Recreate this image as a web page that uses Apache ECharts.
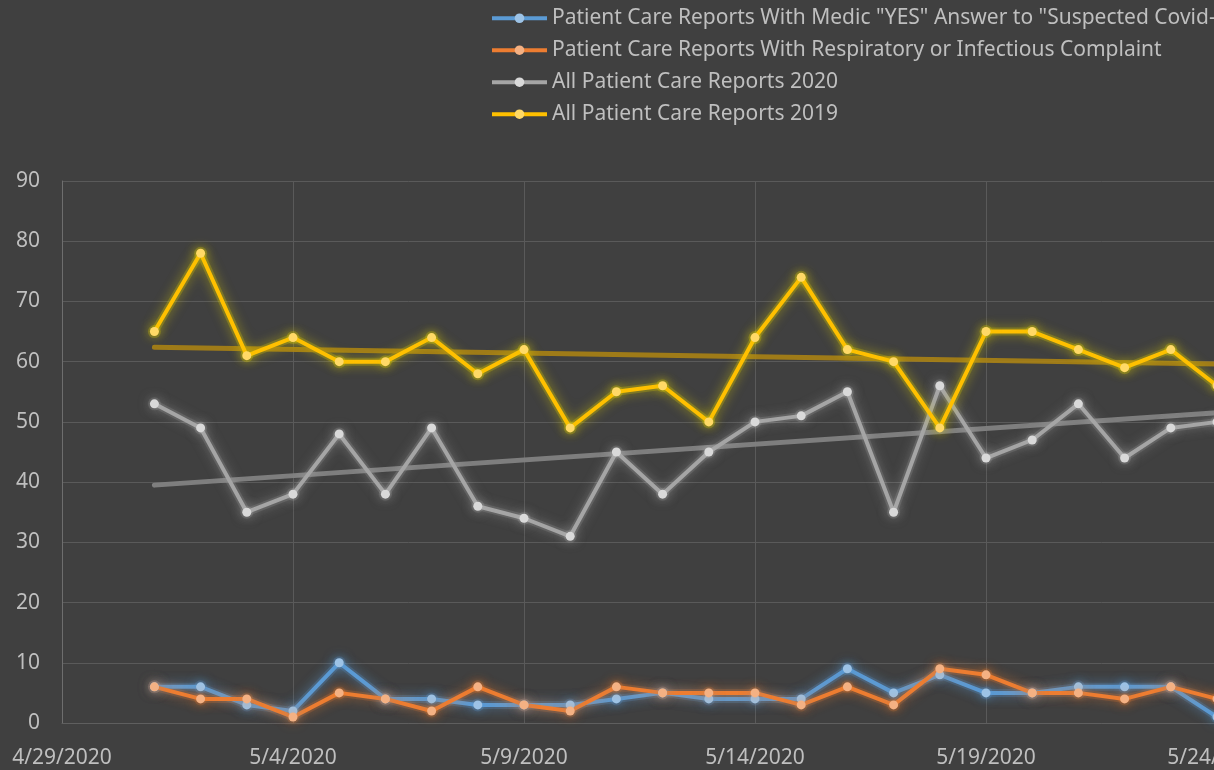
<!DOCTYPE html>
<html>
<head>
    <title>Patient Care Reports</title>
    <script src="https://cdn.jsdelivr.net/npm/echarts@6/dist/echarts.min.js"></script>
    <style>
        body {
            margin: 0;
            padding: 0;
            overflow: hidden;
            background-color: #404040;
        }
        #chart {
            width: 1460px;
            height: 770px;
        }
    </style>
</head>
<body>
    <div id="chart"></div>

    <script>
        // days on the axis (4/29 .. 5/29), data runs 5/1 .. 5/24
        var dates = ['4/29/2020', '4/30/2020', '5/1/2020', '5/2/2020', '5/3/2020', '5/4/2020', '5/5/2020',
            '5/6/2020', '5/7/2020', '5/8/2020', '5/9/2020', '5/10/2020', '5/11/2020', '5/12/2020',
            '5/13/2020', '5/14/2020', '5/15/2020', '5/16/2020', '5/17/2020', '5/18/2020', '5/19/2020',
            '5/20/2020', '5/21/2020', '5/22/2020', '5/23/2020', '5/24/2020', '5/25/2020', '5/26/2020',
            '5/27/2020', '5/28/2020', '5/29/2020'];

        var medicYes   = [null, null, 6, 6, 3, 2, 10, 4, 4, 3, 3, 3, 4, 5, 4, 4, 4, 9, 5, 8, 5, 5, 6, 6, 6, 1];
        var respiratory = [null, null, 6, 4, 4, 1, 5, 4, 2, 6, 3, 2, 6, 5, 5, 5, 3, 6, 3, 9, 8, 5, 5, 4, 6, 4];
        var reports2020 = [null, null, 53, 49, 35, 38, 48, 38, 49, 36, 34, 31, 45, 38, 45, 50, 51, 55, 35, 56, 44, 47, 53, 44, 49, 50];
        var reports2019 = [null, null, 65, 78, 61, 64, 60, 60, 64, 58, 62, 49, 55, 56, 50, 64, 74, 62, 60, 49, 65, 65, 62, 59, 62, 56];

        // linear trend end points (5/1 and 5/24)
        var trend2020 = [39.5, 51.5];
        var trend2019 = [62.4, 59.6];

        var names = [
            'Patient Care Reports With Medic "YES" Answer to "Suspected Covid-19"',
            'Patient Care Reports With Respiratory or Infectious Complaint',
            'All Patient Care Reports 2020',
            'All Patient Care Reports 2019'
        ];

        function trendData(ends) {
            var out = dates.map(function () { return null; });
            out[2] = ends[0];
            out[25] = ends[1];
            return out;
        }

        // soft wide halo under a line, like the office "glow" effect
        function haloSeries(data, glow) {
            return {
                type: 'line',
                data: data,
                symbol: 'circle',
                symbolSize: 13,
                z: 1,
                silent: true,
                lineStyle: { color: glow, width: 8, shadowColor: glow, shadowBlur: 18 },
                itemStyle: { color: glow, borderWidth: 0, shadowColor: glow, shadowBlur: 14 },
                emphasis: { disabled: true }
            };
        }

        function lineSeries(name, data, color, markerColor, glow) {
            return {
                name: name,
                type: 'line',
                data: data,
                symbol: 'circle',
                symbolSize: 9,
                showSymbol: true,
                z: 3,
                lineStyle: {
                    color: color,
                    width: 4,
                    shadowColor: glow,
                    shadowBlur: 12
                },
                itemStyle: {
                    color: markerColor,
                    borderWidth: 0,
                    shadowColor: glow,
                    shadowBlur: 12
                },
                emphasis: { disabled: true }
            };
        }

        function trendSeries(ends, color) {
            return {
                type: 'line',
                data: trendData(ends),
                connectNulls: true,
                showSymbol: false,
                symbol: 'none',
                z: 2,
                lineStyle: { color: color, width: 5, cap: 'round' },
                emphasis: { disabled: true },
                silent: true
            };
        }

        var chart = echarts.init(document.getElementById('chart'));

        var option = {
            backgroundColor: '#404040',
            animation: false,
            textStyle: { fontFamily: 'Noto Sans' },
            legend: {
                orient: 'vertical',
                left: 490,
                top: 1,
                padding: 0,
                itemWidth: 55,
                itemHeight: 12,
                itemGap: -2.5,
                data: names,
                lineStyle: { width: 4 },
                textStyle: { color: '#bfbfbf', fontSize: 21, lineHeight: 21, fontFamily: 'Noto Sans' }
            },
            grid: {
                left: 62,
                right: 12,
                top: 181,
                bottom: 47,
                outerBoundsMode: 'none',
                containLabel: false
            },
            xAxis: {
                type: 'category',
                data: dates,
                boundaryGap: false,
                axisLine: { show: true, lineStyle: { color: '#5f5f5f' } },
                axisTick: { show: false },
                axisLabel: {
                    interval: 4,
                    color: '#bfbfbf',
                    fontSize: 21,
                    margin: 18
                },
                splitLine: {
                    show: true,
                    interval: 4,
                    lineStyle: { color: '#5a5a5a', width: 1 }
                }
            },
            yAxis: {
                type: 'value',
                min: 0,
                max: 90,
                interval: 10,
                axisLine: { show: true, lineStyle: { color: '#6e6e6e' } },
                axisTick: { show: false },
                axisLabel: {
                    color: '#bfbfbf',
                    fontSize: 21,
                    margin: 22
                },
                splitLine: { lineStyle: { color: '#5a5a5a', width: 1 } }
            },
            series: [
                haloSeries(medicYes, 'rgba(91,155,213,0.22)'),
                haloSeries(respiratory, 'rgba(237,125,49,0.2)'),
                haloSeries(reports2020, 'rgba(200,200,200,0.14)'),
                haloSeries(reports2019, 'rgba(220,205,0,0.26)'),
                trendSeries(trend2020, 'rgba(130,130,130,0.95)'),
                trendSeries(trend2019, 'rgba(170,130,20,0.9)'),
                lineSeries(names[0], medicYes, '#5b9bd5', '#9dc3e6', 'rgba(91,155,213,0.8)'),
                lineSeries(names[1], respiratory, '#ed7d31', '#f4b183', 'rgba(237,125,49,0.7)'),
                lineSeries(names[2], reports2020, '#a5a5a5', '#d9d9d9', 'rgba(210,210,210,0.5)'),
                lineSeries(names[3], reports2019, '#ffc000', '#ffd966', 'rgba(220,205,0,0.75)')
            ]
        };

        chart.setOption(option);
    </script>
</body>
</html>
